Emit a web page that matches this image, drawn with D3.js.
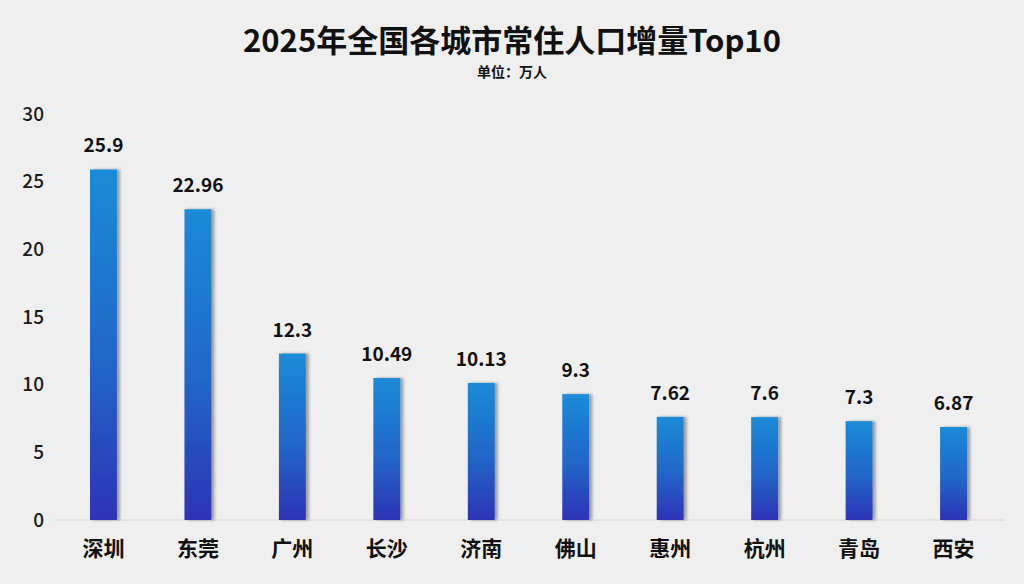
<!DOCTYPE html>
<html><head><meta charset="utf-8">
<script src="https://cdn.jsdelivr.net/npm/d3@7"></script>
<style>
body{margin:0;background:#efefef;}
svg{display:block;font-family:"Noto Sans CJK SC","Noto Sans",sans-serif;}
</style></head>
<body><svg id="chart" width="1024" height="584"></svg>
<script>
const cities = ['深圳','东莞','广州','长沙','济南','佛山','惠州','杭州','青岛','西安'];
const values = [25.9, 22.96, 12.3, 10.49, 10.13, 9.3, 7.62, 7.6, 7.3, 6.87];
const labels = ['25.9','22.96','12.3','10.49','10.13','9.3','7.62','7.6','7.3','6.87'];
const yTicks = [0, 5, 10, 15, 20, 25, 30];

const svg = d3.select('#chart');
svg.append('rect').attr('width', 1024).attr('height', 584).attr('fill', '#efefef');

const defs = svg.append('defs');
const grad = defs.append('linearGradient').attr('id', 'barGrad')
  .attr('x1', 0).attr('y1', 0).attr('x2', 0).attr('y2', 1);
grad.append('stop').attr('offset', '0%').attr('stop-color', '#1a8bd7');
grad.append('stop').attr('offset', '55%').attr('stop-color', '#2266c8');
grad.append('stop').attr('offset', '100%').attr('stop-color', '#2e33b6');
const f = defs.append('filter').attr('id', 'shadow').attr('x', '-20%').attr('width', '160%');
f.append('feDropShadow').attr('dx', 3).attr('dy', 0).attr('stdDeviation', 1.5)
  .attr('flood-color', '#000').attr('flood-opacity', 0.35);

const x = d3.scaleBand().domain(cities).range([56, 1001]).paddingInner(0.715).paddingOuter(0.36);
const y = d3.scaleLinear().domain([0, 30]).range([520, 114]);

// baseline
svg.append('line').attr('x1', 55).attr('x2', 1005).attr('y1', y(0)).attr('y2', y(0))
  .attr('stroke', '#d6d6d6').attr('stroke-width', 1);

// y axis
const yAxis = d3.axisLeft(y).tickValues(yTicks).tickSize(0).tickPadding(0);
svg.append('g').attr('transform', 'translate(44,0)').call(yAxis)
  .call(g => g.select('.domain').remove())
  .call(g => g.selectAll('text').attr('font-size', 19).attr('font-weight', 500).attr('fill', '#1a1a1a')
    .attr('font-family', '"Noto Sans CJK SC",sans-serif'));

svg.append('g').selectAll('rect').data(values).join('rect')
  .attr('x', (d, i) => x(cities[i]))
  .attr('y', d => y(d))
  .attr('width', x.bandwidth())
  .attr('height', d => y(0) - y(d))
  .attr('fill', 'url(#barGrad)')
  .attr('filter', 'url(#shadow)');

svg.append('g').selectAll('text').data(values).join('text')
  .attr('x', (d, i) => x(cities[i]) + x.bandwidth() / 2)
  .attr('y', d => y(d) - 17)
  .attr('text-anchor', 'middle').attr('font-size', 19).attr('font-weight', 'bold').attr('fill', '#111')
  .text((d, i) => labels[i]);

// x axis labels
const xAxis = d3.axisBottom(x).tickSize(0).tickPadding(0);
svg.append('g').attr('transform', `translate(0,${y(0) + 21})`).call(xAxis)
  .call(g => g.select('.domain').remove())
  .call(g => g.selectAll('text').attr('font-size', 21).attr('font-weight', 'bold').attr('fill', '#111')
    .attr('font-family', '"Noto Sans CJK SC",sans-serif'));

svg.append('text').attr('x', 512).attr('y', 52).attr('text-anchor', 'middle')
  .attr('font-size', 31).attr('font-weight', 'bold').attr('fill', '#111')
  .text('2025年全国各城市常住人口增量Top10');
svg.append('text').attr('x', 512).attr('y', 77).attr('text-anchor', 'middle')
  .attr('font-size', 14).attr('font-weight', 'bold').attr('fill', '#111')
  .text('单位：万人');
</script></body></html>
